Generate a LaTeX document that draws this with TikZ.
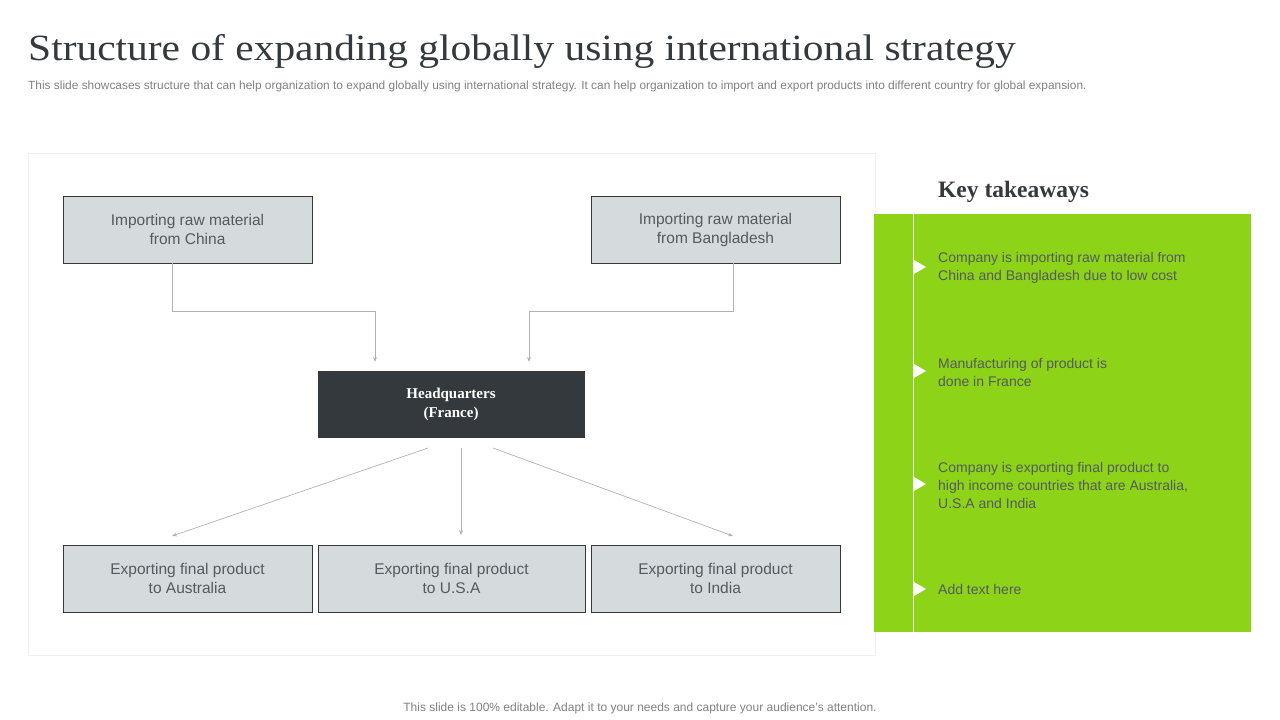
\documentclass[tikz,border=0pt]{standalone}
\usepackage{fontspec}
\setmainfont{Liberation Sans}
\newfontfamily\serifx{Liberation Serif}
\usetikzlibrary{arrows.meta}
\definecolor{boxfill}{HTML}{D5DADD}
\definecolor{hq}{HTML}{33393C}
\definecolor{lime}{HTML}{8DD317}
\definecolor{txt}{HTML}{555A5E}
\begin{document}
\begin{tikzpicture}[x=1pt,y=-1pt,
  box/.style={draw=hq,fill=boxfill,line width=0.7pt,text=txt,align=center,font=\fontsize{15.5}{19}\selectfont},
  conn/.style={draw=gray!60,line width=0.7pt,-{Stealth[length=5pt,width=4pt]}},
  take/.style={anchor=west,align=left,text=txt,font=\fontsize{14}{18}\selectfont},
  tri/.style={fill=white,draw=none}]
\useasboundingbox (0,0) rectangle (1280,720);
\node[anchor=base west,font=\serifx\fontsize{37}{40}\selectfont,text=hq,xscale=1.12,inner sep=0pt] (title) at (28,60) {Structure of expanding globally using international strategy};
\node[anchor=base west,font=\fontsize{11.9}{13}\selectfont,text=gray,inner sep=0pt] (sub) at (28,89) {This slide showcases structure that can help organization to expand globally using international strategy. It can help organization to import and export products into different country for global expansion.};
\draw[draw=gray!12,line width=0.8pt] (28,153) rectangle (875,655);
\node[box,minimum width=249pt,minimum height=67pt] (cn) at (187.5,229.5) {Importing raw material\\from China};
\node[box,minimum width=249pt,minimum height=67pt] (bd) at (715.5,229.5) {Importing raw material\\from Bangladesh};
\node[draw=hq,fill=hq,minimum width=266pt,minimum height=66pt,text=white,align=center,font=\serifx\bfseries\fontsize{15}{19}\selectfont] (hqn) at (451,404) {Headquarters\\(France)};
\node[box,minimum width=249pt,minimum height=67pt] (au) at (187.5,578.5) {Exporting final product\\to Australia};
\node[box,minimum width=267pt,minimum height=67pt] (us) at (451.5,578.5) {Exporting final product\\to U.S.A};
\node[box,minimum width=249pt,minimum height=67pt] (in) at (715.5,578.5) {Exporting final product\\to India};
\coordinate (h1) at (428,448); \coordinate (h2) at (461,448); \coordinate (h3) at (493,448);
\coordinate (e1) at (172,536); \coordinate (e2) at (461,535); \coordinate (e3) at (733,536);
\coordinate (a1) at (375,362); \coordinate (a2) at (529,362);
\draw[conn] (cn.south -| 172,0) |- (375,311) -- (a1);
\draw[conn] (bd.south -| 733,0) |- (529,311) -- (a2);
\draw[conn] (h1) -- (e1);
\draw[conn] (h2) -- (e2);
\draw[conn] (h3) -- (e3);
\node[anchor=base west,font=\serifx\bfseries\fontsize{23.5}{26}\selectfont,text=hq,inner sep=0pt] (kt) at (938,197) {Key takeaways};
\fill[lime] (874,214) rectangle (1251,632);
\draw[white,line width=1pt] (913,214) -- (913,632);
\foreach \y in {267,371,484,589} \fill[tri] (914,\y-7) -- (926,\y) -- (914,\y+7) -- cycle;
\node[take,inner sep=0pt] (t1) at (938,268) {Company is importing raw material from\\China and Bangladesh due to low cost};
\node[take,inner sep=0pt] (t2) at (938,372) {Manufacturing of product is\\done in France};
\node[take,inner sep=0pt] (t3) at (938,485) {Company is exporting final product to\\high income countries that are Australia,\\U.S.A and India};
\node[take,inner sep=0pt] (t4) at (938,589) {Add text here};
\node[font=\fontsize{12}{13}\selectfont,text=gray] (foot) at (640,708) {This slide is 100\% editable. Adapt it to your needs and capture your audience's attention.};
\end{tikzpicture}
\end{document}
